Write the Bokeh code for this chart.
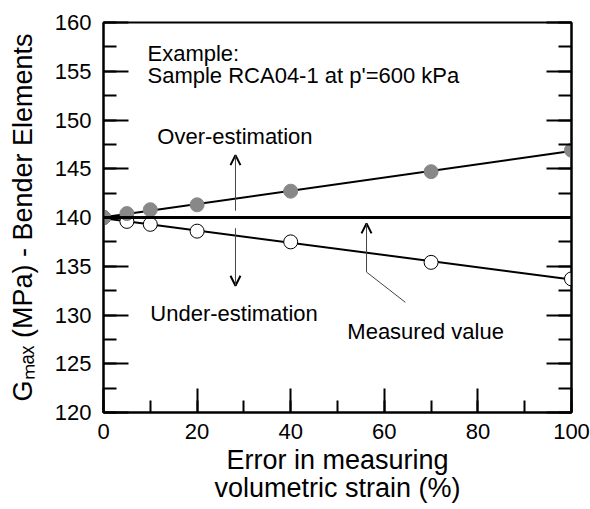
import numpy as np
from bokeh.plotting import figure
from bokeh.models import (Range1d, LinearAxis, SingleIntervalTicker, Span, Label,
                          Arrow, OpenHead, ColumnDataSource)
from bokeh.embed import file_html
from bokeh.resources import INLINE

# ---------------- data ----------------
strain_error = [0, 5, 10, 20, 40, 70, 100]          # error in measuring volumetric strain (%)
gmax_over = [140.0, 140.4, 140.8, 141.3, 142.7, 144.7, 146.9]   # over-estimation (MPa)
gmax_under = [140.0, 139.6, 139.3, 138.6, 137.5, 135.4, 133.7]  # under-estimation (MPa)
gmax_measured = 140.0
x_limits = [0, 100]
y_limits = [120, 160]
x_tick_interval = 20
y_tick_interval = 5

FONT = "Liberation Sans"

p = figure(frame_width=468, frame_height=390,
           x_range=Range1d(*x_limits), y_range=Range1d(*y_limits),
           output_backend="svg", toolbar_location=None,
           min_border_left=103, min_border_right=19, min_border_top=22, min_border_bottom=97,
           background_fill_color="white", border_fill_color="white")
p.grid.visible = False
p.outline_line_color = "black"
p.outline_line_width = 2

def style_axis(ax, major_len, minor_len):
    ax.axis_line_width = 2
    ax.axis_line_color = "black"
    ax.major_tick_line_width = 2
    ax.minor_tick_line_width = 2
    ax.major_tick_in = major_len
    ax.major_tick_out = 0
    ax.minor_tick_in = minor_len
    ax.minor_tick_out = 0
    ax.major_label_text_font = FONT
    ax.major_label_text_font_size = "22px"
    ax.major_label_text_color = "black"
    ax.axis_label_text_font = FONT
    ax.axis_label_text_font_style = "normal"
    ax.axis_label_text_color = "black"

p.xaxis.ticker = SingleIntervalTicker(interval=x_tick_interval, num_minor_ticks=2)
p.yaxis.ticker = SingleIntervalTicker(interval=y_tick_interval, num_minor_ticks=2)
style_axis(p.xaxis[0], 24, 12)
style_axis(p.yaxis[0], 25, 13)
p.xaxis.major_label_standoff = 11
p.yaxis.major_label_standoff = 12

p.xaxis.axis_label = "Error in measuring\nvolumetric strain (%)"
p.xaxis.axis_label_text_font_size = "27px"
p.xaxis.axis_label_text_line_height = 0.94
p.xaxis.axis_label_standoff = 3

p.yaxis.axis_label = "G\u2098\u2090\u2093 (MPa) - Bender Elements"
p.yaxis.axis_label_text_font_size = "27px"
p.yaxis.axis_label_standoff = 14

right = LinearAxis(ticker=SingleIntervalTicker(interval=y_tick_interval, num_minor_ticks=2))
style_axis(right, 25, 13)
right.major_label_text_color = None
right.major_label_standoff = 0
p.add_layout(right, "right")

# measured value line
p.add_layout(Span(location=gmax_measured, dimension="width", line_color="black", line_width=3))

# fitted lines
xs = np.array(x_limits, dtype=float)
fo = np.polyfit(strain_error, gmax_over, 1)
fu = np.polyfit(strain_error, gmax_under, 1)
p.line(xs, np.polyval(fo, xs), line_color="black", line_width=2)
p.line(xs, np.polyval(fu, xs), line_color="black", line_width=2)

src = ColumnDataSource(dict(x=strain_error, over=gmax_over, under=gmax_under))
p.scatter("x", "under", source=src, size=14, marker="circle",
          fill_color="white", line_color="black", line_width=1)
p.scatter("x", "over", source=src, size=14, marker="circle",
          fill_color="#888888", line_color="#888888", line_width=1)

# arrows
def arrow(x0, y0, x1, y1):
    p.add_layout(Arrow(end=OpenHead(size=10, line_width=2, line_color="black"),
                       x_start=x0, y_start=y0, x_end=x1, y_end=y1,
                       line_width=1, line_color="#444444"))

arrow(28.2, 140.7, 28.2, 146.4)
arrow(28.2, 138.9, 28.2, 133.0)
p.segment(x0=[64.5], y0=[131.3], x1=[56.2], y1=[134.4], line_color="#444444", line_width=1)
arrow(56.2, 134.4, 56.2, 139.4)

def label(x, y, text, size="22px", **kw):
    p.add_layout(Label(x=x, y=y, text=text, text_font=FONT, text_font_size=size,
                       text_color="black", text_baseline="alphabetic", **kw))

label(9.4, 156.8, "Example:")
label(9.4, 154.55, "Sample RCA04-1 at p'=600 kPa")
label(11.5, 148.3, "Over-estimation")
label(10.0, 130.15, "Under-estimation")
label(52.1, 128.3, "Measured value")

open("out.html", "w").write(file_html(p, INLINE))
